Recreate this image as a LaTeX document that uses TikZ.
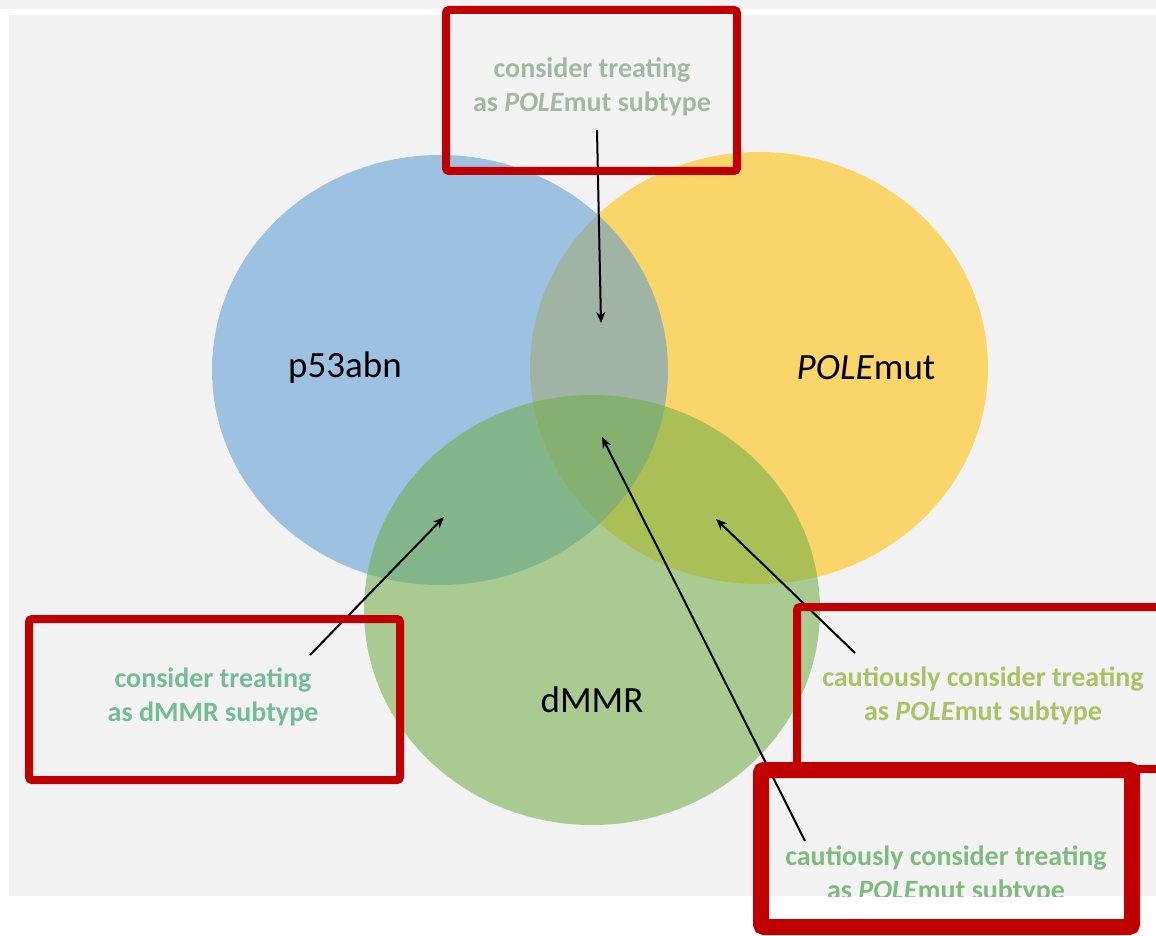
\documentclass[tikz,border=0pt]{standalone}
\usepackage{fontspec}
\setmainfont{Carlito}
\usetikzlibrary{arrows.meta}
\definecolor{panelgrey}{HTML}{F2F2F2}
\definecolor{setblue}{HTML}{5B9BD5}
\definecolor{setyellow}{HTML}{FFC000}
\definecolor{setgreen}{HTML}{70AD47}
\definecolor{redframe}{HTML}{C00000}
\definecolor{notegrey}{HTML}{A3B8A0}
\definecolor{noteteal}{HTML}{74BC96}
\definecolor{noteolive}{HTML}{A9C264}
\definecolor{notegreen}{HTML}{80BA80}
\begin{document}
\begin{tikzpicture}[x=1pt,y=-1pt,
  setfill/.style={fill=#1, fill opacity=0.56, draw=none},
  setlabel/.style={font=\fontsize{37}{44}\selectfont, text=black, inner sep=0pt},
  note/.style={font=\bfseries\fontsize{28}{34}\selectfont, align=center, inner sep=0pt, text=#1},
  pointer/.style={draw=black, line width=2pt, -{Stealth[length=11pt,width=9pt]}},
  frame/.style={draw=redframe, line width=#1, rounded corners=3pt}]
\useasboundingbox (0,0) rectangle (1156,936);
\fill[white] (0,0) rectangle (1156,936);
% background strips
\fill[panelgrey] (0,0) rectangle (1156,9);
\fill[panelgrey] (9,15) rectangle (1156,896);
\begin{scope}
  \clip (9,15) rectangle (1156,896);
  % the three sets
  \fill[setfill=setyellow] (759,368) ellipse [x radius=229pt, y radius=216pt];
  \fill[setfill=setblue] (440,370) ellipse [x radius=228pt, y radius=215pt];
  \fill[setfill=setgreen] (592,610) ellipse [x radius=228pt, y radius=215pt];
  % set names
  \node[setlabel] (p53) at (345,368) {p53abn};
  \node[setlabel] (pole) at (866,368) {\textit{POLE}mut};
  \node[setlabel] (dmmr) at (592,700) {dMMR};
  % notes
  \node[note=notegrey] (ntop) at (592,87) {consider treating\\as \textit{POLE}mut subtype};
  \node[note=noteteal] (nleft) at (213,697) {consider treating\\as dMMR subtype};
  \node[note=noteolive] (nright) at (983,696) {cautiously consider treating\\as \textit{POLE}mut subtype};
  \node[note=notegreen] (nbottom) at (946,875) {cautiously consider treating\\as \textit{POLE}mut subtype};
  % arrow ends
  \coordinate (ttail) at (597,130);
  \coordinate (thead) at (601,323);
  \coordinate (ltail) at (310,655);
  \coordinate (lhead) at (444,517);
  \coordinate (rtail) at (855,653);
  \coordinate (rhead) at (716,519);
  \coordinate (btail) at (805,841);
  \coordinate (bhead) at (602,437);
  \draw[pointer] (ttail) -- (thead);
  \draw[pointer] (ltail) -- (lhead);
  \draw[pointer] (rtail) -- (rhead);
  \draw[pointer] (btail) -- (bhead);
\end{scope}
% highlight frames
\draw[frame=8pt] (446,10) rectangle (737,171);
\draw[frame=8pt] (29,619) rectangle (400,780);
\draw[frame=8pt] (797,607) rectangle (1175,769);
\draw[frame=16pt] (761,770) rectangle (1132,927);
\end{tikzpicture}
\end{document}
